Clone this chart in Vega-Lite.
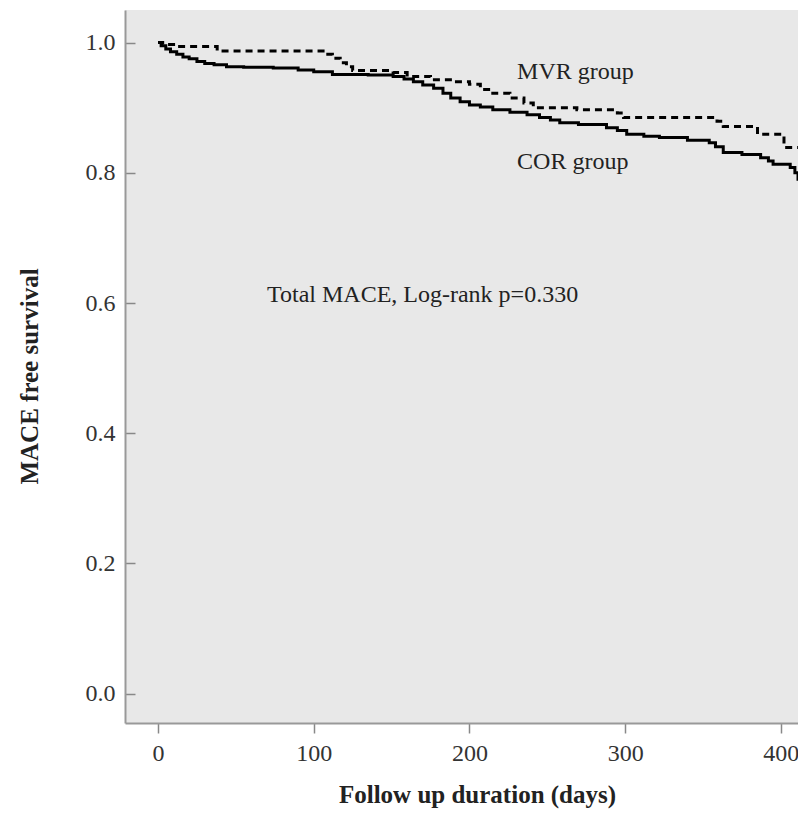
{
  "$schema": "https://vega.github.io/schema/vega-lite/v6.json",
  "width": 673,
  "height": 713,
  "autosize": {"type": "none"},
  "padding": {"left": 125, "top": 10, "right": 0, "bottom": 91},
  "background": "white",
  "config": {"view": {"fill": "#e8e8e8", "stroke": null}, "font": "Liberation Serif"},
  "datasets": {
    "surv": [
      {"group": "COR group", "day": 0, "s": 1.0},
      {"group": "COR group", "day": 2, "s": 0.995},
      {"group": "COR group", "day": 5, "s": 0.99},
      {"group": "COR group", "day": 8, "s": 0.986},
      {"group": "COR group", "day": 12, "s": 0.982},
      {"group": "COR group", "day": 16, "s": 0.978},
      {"group": "COR group", "day": 20, "s": 0.975},
      {"group": "COR group", "day": 25, "s": 0.971},
      {"group": "COR group", "day": 30, "s": 0.968},
      {"group": "COR group", "day": 36, "s": 0.966},
      {"group": "COR group", "day": 44, "s": 0.963},
      {"group": "COR group", "day": 55, "s": 0.962},
      {"group": "COR group", "day": 74, "s": 0.961},
      {"group": "COR group", "day": 90, "s": 0.958},
      {"group": "COR group", "day": 100, "s": 0.955},
      {"group": "COR group", "day": 112, "s": 0.951},
      {"group": "COR group", "day": 135, "s": 0.95},
      {"group": "COR group", "day": 151, "s": 0.948},
      {"group": "COR group", "day": 158, "s": 0.944},
      {"group": "COR group", "day": 164, "s": 0.94},
      {"group": "COR group", "day": 170, "s": 0.935},
      {"group": "COR group", "day": 177, "s": 0.93},
      {"group": "COR group", "day": 183, "s": 0.922},
      {"group": "COR group", "day": 188, "s": 0.915},
      {"group": "COR group", "day": 194, "s": 0.909},
      {"group": "COR group", "day": 200, "s": 0.904},
      {"group": "COR group", "day": 207, "s": 0.901},
      {"group": "COR group", "day": 215, "s": 0.897},
      {"group": "COR group", "day": 226, "s": 0.893},
      {"group": "COR group", "day": 237, "s": 0.889},
      {"group": "COR group", "day": 245, "s": 0.885},
      {"group": "COR group", "day": 252, "s": 0.881},
      {"group": "COR group", "day": 258, "s": 0.877},
      {"group": "COR group", "day": 270, "s": 0.874},
      {"group": "COR group", "day": 288, "s": 0.869},
      {"group": "COR group", "day": 295, "s": 0.865},
      {"group": "COR group", "day": 301, "s": 0.859},
      {"group": "COR group", "day": 312, "s": 0.856},
      {"group": "COR group", "day": 322, "s": 0.854},
      {"group": "COR group", "day": 340, "s": 0.85},
      {"group": "COR group", "day": 354, "s": 0.846},
      {"group": "COR group", "day": 358, "s": 0.84},
      {"group": "COR group", "day": 363, "s": 0.831},
      {"group": "COR group", "day": 375, "s": 0.828},
      {"group": "COR group", "day": 387, "s": 0.823},
      {"group": "COR group", "day": 392, "s": 0.818},
      {"group": "COR group", "day": 395, "s": 0.813},
      {"group": "COR group", "day": 406, "s": 0.808},
      {"group": "COR group", "day": 409, "s": 0.8},
      {"group": "COR group", "day": 411, "s": 0.79},
      {"group": "COR group", "day": 413, "s": 0.78},
      {"group": "MVR group", "day": 0, "s": 1.0},
      {"group": "MVR group", "day": 3, "s": 0.997},
      {"group": "MVR group", "day": 10, "s": 0.994},
      {"group": "MVR group", "day": 38, "s": 0.987},
      {"group": "MVR group", "day": 106, "s": 0.982},
      {"group": "MVR group", "day": 112, "s": 0.976},
      {"group": "MVR group", "day": 117, "s": 0.969},
      {"group": "MVR group", "day": 121, "s": 0.963},
      {"group": "MVR group", "day": 125, "s": 0.957},
      {"group": "MVR group", "day": 151, "s": 0.954},
      {"group": "MVR group", "day": 160, "s": 0.948},
      {"group": "MVR group", "day": 175, "s": 0.943},
      {"group": "MVR group", "day": 190, "s": 0.94},
      {"group": "MVR group", "day": 200, "s": 0.936},
      {"group": "MVR group", "day": 207, "s": 0.928},
      {"group": "MVR group", "day": 215, "s": 0.922},
      {"group": "MVR group", "day": 226, "s": 0.915},
      {"group": "MVR group", "day": 235, "s": 0.907},
      {"group": "MVR group", "day": 241, "s": 0.9},
      {"group": "MVR group", "day": 269, "s": 0.897},
      {"group": "MVR group", "day": 295, "s": 0.892},
      {"group": "MVR group", "day": 299, "s": 0.885},
      {"group": "MVR group", "day": 359, "s": 0.879},
      {"group": "MVR group", "day": 363, "s": 0.871},
      {"group": "MVR group", "day": 385, "s": 0.859},
      {"group": "MVR group", "day": 402, "s": 0.839},
      {"group": "MVR group", "day": 413, "s": 0.839}
    ],
    "notes": [
      {"label": "MVR group", "day": 230.6, "s": 0.955},
      {"label": "COR group", "day": 230.6, "s": 0.816},
      {"label": "Total MACE, Log-rank p=0.330", "day": 70, "s": 0.613}
    ]
  },
  "layer": [
    {
      "data": {"name": "surv"},
      "mark": {"type": "line", "interpolate": "step-after", "strokeWidth": 3, "clip": true, "color": "black"},
      "encoding": {
        "x": {
          "field": "day", "type": "quantitative",
          "scale": {"domain": [-21.2, 411.0], "nice": false, "zero": false},
          "axis": {
            "values": [0, 100, 200, 300, 400],
            "title": "Follow up duration (days)",
            "titleFont": "Liberation Serif", "titleFontSize": 25, "titleFontWeight": "bold", "titleColor": "#222",
            "titleX": 352, "titleY": 79, "titleBaseline": "alphabetic", "titleAlign": "center",
            "labelFont": "Liberation Serif", "labelFontSize": 24, "labelColor": "#333", "labelPadding": 8,
            "tickSize": 10, "tickColor": "#888", "tickWidth": 1.5,
            "domainColor": "#999", "domainWidth": 2, "grid": false
          }
        },
        "y": {
          "field": "s", "type": "quantitative",
          "scale": {"domain": [-0.045, 1.05], "nice": false, "zero": false},
          "axis": {
            "values": [0, 0.2, 0.4, 0.6, 0.8, 1.0], "format": ".1f",
            "title": "MACE free survival",
            "titleFont": "Liberation Serif", "titleFontSize": 25, "titleFontWeight": "bold", "titleColor": "#222",
            "titleX": -88, "titleY": 366, "titleAngle": -90, "titleBaseline": "alphabetic", "titleAlign": "center",
            "labelFont": "Liberation Serif", "labelFontSize": 24, "labelColor": "#333", "labelPadding": 20,
            "tickSize": -10, "tickColor": "#888", "tickWidth": 1.5,
            "domainColor": "#999", "domainWidth": 2, "grid": false
          }
        },
        "strokeDash": {
          "field": "group", "type": "nominal",
          "scale": {"domain": ["COR group", "MVR group"], "range": [[1, 0], [7, 5]]},
          "legend": null
        }
      }
    },
    {
      "data": {"name": "notes"},
      "mark": {"type": "text", "align": "left", "baseline": "middle", "fontSize": 24, "font": "Liberation Serif", "color": "#222"},
      "encoding": {
        "x": {"field": "day", "type": "quantitative"},
        "y": {"field": "s", "type": "quantitative"},
        "text": {"field": "label"}
      }
    },
    {
      "mark": {"type": "rule", "color": "#999", "strokeWidth": 2},
      "encoding": {"y": {"datum": 1.05}}
    }
  ]
}
